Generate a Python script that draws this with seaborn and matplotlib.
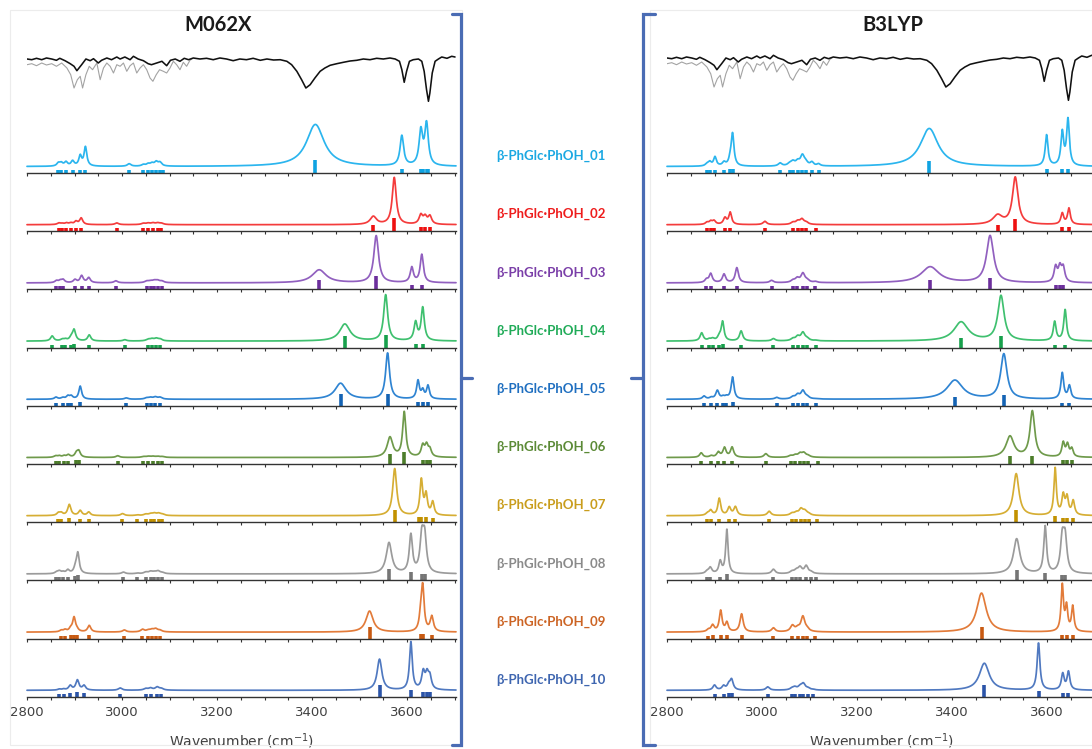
import numpy as np
import seaborn as sns
import matplotlib.pyplot as plt
from matplotlib.lines import Line2D
from matplotlib.ticker import MultipleLocator

# ---- experimental IR trace (same for both panels), dips are negative ----
exp_wn = [2800, 2810, 2820, 2831, 2841, 2852, 2862, 2869, 2880, 2891, 2899, 2905, 2915, 2924, 2933, 2940,
          2950, 2957, 2968, 2978, 2989, 2996, 3006, 3017, 3024, 3034, 3045, 3055, 3062, 3073, 3084, 3094,
          3102, 3112, 3122, 3131, 3140, 3150, 3164, 3178, 3192, 3206, 3220, 3234, 3248, 3262, 3276, 3291,
          3305, 3319, 3333, 3347, 3357, 3368, 3378, 3387, 3396, 3406, 3417, 3427, 3438, 3452, 3466, 3480,
          3494, 3508, 3522, 3536, 3550, 3564, 3575, 3584, 3589, 3594, 3599, 3605, 3613, 3624, 3631, 3636,
          3641, 3645, 3648, 3653, 3659, 3666, 3673, 3684, 3694, 3701]
exp_black = [0, -0.7, 0.7, -0.7, 1, 0, -1.3, 0.7, -1.7, -4.7, -7.3, -11.7, -5.7, 0, -1.7, 0.3,
             -4, -1.3, 1, -0.7, 2, 0, 2, -0.7, 2.7, 0, -1.7, -4.7, -5.7, -4, -2.3, -6.7,
             -1.3, 0, -2.3, 0.7, -0.7, 1, 0, 0.7, -0.7, 1, 0, -1.7, 0, -0.7, 0.7, -1.3,
             0, -1, -0.7, -2.3, -5.7, -12.3, -20.7, -29, -25.7, -19, -12.3, -9, -6.3, -4.7, -3.3, -2,
             -1.3, 0, -0.7, 0.7, 0, 1, 0, -2.3, -10.7, -23.3, -12.3, -2.3, -0.7, 0, -2.3, -12.3,
             -30.7, -42.3, -34, -14, -2.3, 0, 2, 0.7, 2.7, 2]
gray_wn = [2800, 2810, 2820, 2831, 2841, 2852, 2862, 2873, 2884, 2892, 2899, 2906, 2912, 2917, 2924, 2931,
           2938, 2947, 2954, 2961, 2968, 2975, 2982, 2989, 2996, 3003, 3010, 3017, 3024, 3031, 3038, 3045,
           3052, 3059, 3065, 3072, 3079, 3087, 3094, 3101, 3108, 3115, 3122, 3129, 3136, 3143, 3147]
exp_gray = [-5.7, -4.7, -6.7, -4, -6, -4.7, -7.3, -4, -9, -15.7, -29, -20.7, -17.3, -29, -15.7, -7.3,
            -10.7, -4, -20.7, -9, -4, -7.3, -14, -5.7, -7.3, -4, -12.3, -6.7, -4, -14, -9, -5.7,
            -10.7, -19, -22.3, -15.7, -10.7, -12.3, -14, -9, -2.3, -5.7, -10.7, -3.3, -7.3, -1.3, 0]

conformers = ['β-PhGlc·PhOH_%02d' % i for i in range(1, 11)]
curve_colors = ['#2bb5ee', '#f43c3c', '#9160bf', '#3fc06f', '#2f84d2',
                '#6f9a4b', '#d6ae34', '#9b9b9b', '#e27b3a', '#5079c0']
stick_colors = ['#0fa3e2', '#ee1010', '#6c2f9c', '#17a04c', '#1463b4',
                '#4c7d2a', '#c29100', '#767676', '#c85a12', '#2b54a8']
label_colors = ['#1aa8e2', '#ee1c1c', '#7a3ea8', '#20ab58', '#1f6fc0',
                '#5b8a36', '#c99d1c', '#8a8a8a', '#cc6424', '#3f66b0']

# bands: (wavenumber, stick intensity, band height, fwhm)
m06_01 = [(2866, 3.5, 3, 8), (2872, 3.5, 3, 8), (2882, 3.5, 4, 8), (2896, 3.5, 5, 8), (2912, 3.5, 10, 7),
          (2923, 3.5, 19, 7), (3015, 3.5, 2.5, 9), (3045, 3.5, 1.5, 9), (3055, 3.5, 2, 9), (3063, 3.5, 2.5, 9),
          (3072, 3.5, 4, 9), (3080, 3.5, 3.5, 9), (3086, 3.5, 0, 9), (3407, 13, 42, 45), (3589, 4, 30, 9),
          (3629, 4, 34, 9), (3634, 4, 0, 9), (3641, 4, 41, 9), (3645, 4, 0, 9)]
m06_02 = [(2867, 3, 1.5, 8), (2874, 3, 1, 8), (2883, 3, 1.5, 8), (2892, 3, 1.5, 8), (2903, 3, 3, 8),
          (2914, 3.5, 6.5, 8), (2989, 3.5, 1.7, 9), (3045, 3, 1.2, 10), (3055, 3, 1.3, 10), (3065, 3, 1.5, 10),
          (3075, 3, 1.5, 10), (3083, 3, 1.2, 10), (3529, 6, 8, 16), (3573, 13, 47, 10), (3629, 4, 9, 9),
          (3638, 4, 7, 9), (3648, 4, 8, 9)]
m06_03 = [(2862, 3.5, 2, 8), (2870, 3.5, 2, 8), (2876, 3.5, 3, 8), (2901, 3.5, 3, 8), (2915, 3.5, 7, 8),
          (2930, 3.5, 5, 8), (2987, 3.5, 2, 9), (3052, 3.5, 1.5, 10), (3060, 3.5, 1.5, 10), (3068, 3.5, 1.8, 10),
          (3075, 3.5, 2, 10), (3084, 3.5, 1.5, 10), (3415, 9, 13, 35), (3535, 13, 47, 12), (3610, 4, 15, 8),
          (3631, 4, 28, 8)]
m06_04 = [(2853, 3, 5, 8), (2874, 3, 1.5, 8), (2881, 3, 1.5, 8), (2893, 3, 3, 8), (2899, 3.5, 11, 8),
          (2931, 3, 6, 8), (3006, 3, 1.3, 9), (3055, 3, 1.5, 10), (3063, 3, 1.8, 10), (3072, 3, 2.2, 10),
          (3080, 3, 1.8, 10), (3469, 12, 17, 26), (3555, 13, 46, 10), (3618, 4, 18, 8), (3633, 4, 33, 8)]
m06_05 = [(2861, 3, 2, 8), (2875, 3, 1.5, 8), (2886, 3, 3, 8), (2893, 3, 3, 8), (2912, 3.5, 13, 7),
          (3009, 3, 1.3, 9), (3052, 3, 1.2, 10), (3060, 3, 1.5, 10), (3070, 3, 2, 10), (3080, 3, 1.8, 10),
          (3460, 12, 16, 28), (3559, 12, 46, 10), (3623, 4, 18, 7), (3633, 4, 8, 7), (3644, 4, 13, 7)]
m06_06 = [(2860, 3, 1.5, 8), (2868, 3, 1.5, 8), (2878, 3, 1.5, 8), (2887, 3, 2.5, 8), (2904, 4, 4, 8),
          (2909, 4, 6, 8), (2991, 3, 1.7, 9), (3045, 3, 0.8, 10), (3055, 3, 1, 10), (3065, 3, 1, 10),
          (3075, 3, 1, 10), (3085, 3, 0.8, 10), (3564, 10, 20, 14), (3594, 12, 45, 8), (3633, 4, 11, 8),
          (3641, 4, 11, 8), (3648, 4, 7, 8)]
m06_07 = [(2866, 3, 2.5, 8), (2872, 3, 2.5, 8), (2889, 4, 11, 8), (2912, 3, 5, 8), (2930, 3, 3.5, 8),
          (3001, 3, 2, 9), (3032, 3, 0.7, 9), (3050, 3, 1.3, 10), (3060, 3, 1.5, 10), (3068, 3, 2, 10),
          (3077, 3, 2, 10), (3085, 3, 1.2, 10), (3574, 12, 47, 10), (3625, 5, 0, 7), (3630, 5, 35, 7),
          (3640, 5, 20, 7), (3654, 4, 13, 7)]
m06_08 = [(2862, 3, 1.5, 8), (2868, 3, 2.5, 8), (2876, 3, 1.5, 8), (2886, 3.5, 3.5, 8), (2902, 4, 5, 8),
          (2907, 5, 20, 7), (3003, 3, 1.7, 9), (3032, 3, 0.7, 9), (3050, 3, 1.5, 10), (3060, 3, 2, 10),
          (3068, 3, 1.5, 10), (3076, 3, 2.5, 10), (3085, 3, 1, 10), (3562, 11, 31, 14), (3608, 8, 38, 8),
          (3631, 6, 34, 9), (3637, 6, 34, 9)]
m06_09 = [(2872, 3, 1.5, 8), (2880, 3, 2, 8), (2892, 3.5, 3, 8), (2899, 4, 14, 7), (2905, 3.5, 2, 8),
          (2931, 3.5, 6.5, 8), (3005, 3, 2, 9), (3043, 3, 2.5, 9), (3055, 3, 1.5, 10), (3063, 3, 2, 10),
          (3071, 3, 2.8, 10), (3080, 3, 1.5, 10), (3521, 12, 21, 18), (3629, 5, 15, 7), (3633, 5, 42, 7),
          (3652, 4, 15, 8)]
m06_10 = [(2868, 3, 1, 8), (2877, 3, 1, 8), (2891, 3.5, 4.5, 8), (2906, 4.5, 10, 8), (2920, 3.5, 4.5, 8),
          (2996, 3, 2.3, 9), (3050, 3, 1.5, 10), (3060, 3, 2, 10), (3074, 3, 3, 10), (3083, 3, 1.5, 10),
          (3542, 12, 31, 12), (3608, 7, 48, 7), (3634, 5, 17, 8), (3642, 5, 14, 8), (3648, 5, 12, 8)]

b3_01 = [(2884, 3.5, 2, 8), (2890, 3.5, 4, 8), (2901, 3.5, 9, 7), (2920, 3, 3.5, 8), (2933, 4, 5, 7),
         (2938, 4, 32, 7), (3038, 3, 3, 9), (3058, 3, 2, 10), (3065, 3, 4, 10), (3075, 3, 4, 10),
         (3085, 3, 10, 10), (3092, 3, 3, 10), (3105, 3, 3.5, 8), (3119, 3, 2, 8), (3352, 12, 38, 45),
         (3599, 4, 31, 7), (3632, 4, 33, 7), (3644, 4, 46, 7)]
b3_02 = [(2884, 3, 2, 8), (2892, 3, 3, 8), (2899, 3, 3.5, 8), (2922, 3.5, 6.5, 8), (2933, 3.5, 12, 7),
         (3006, 3.5, 3.3, 9), (3065, 3, 2, 10), (3075, 3, 3, 10), (3084, 3, 5, 10), (3093, 3, 2, 10),
         (3113, 3, 0, 8), (3496, 6, 9, 24), (3533, 12, 47, 14), (3632, 4, 11, 7), (3646, 4, 16, 7)]
b3_03 = [(2883, 3.5, 3, 8), (2892, 3.5, 9, 8), (2920, 3.5, 8.5, 8), (2947, 3.5, 15, 8), (3020, 3, 2.3, 9),
         (3065, 3, 2, 10), (3074, 3, 4, 10), (3086, 3, 9, 10), (3095, 3, 2, 10), (3112, 3, 1, 8),
         (3354, 9, 16, 45), (3480, 11, 47, 18), (3618, 4, 15, 8), (3627, 4, 14, 8), (3634, 4, 14, 8)]
b3_04 = [(2873, 3, 8, 8), (2889, 3, 1.5, 8), (2896, 3, 2, 8), (2910, 3, 4, 8), (2917, 3.5, 19, 7),
         (2956, 3, 10, 8), (3024, 3, 2.3, 9), (3065, 3, 2, 10), (3075, 3, 4, 10), (3086, 3, 8, 10),
         (3095, 3, 2, 10), (3113, 3, 0.5, 8), (3419, 10, 19, 36), (3503, 12, 45, 16), (3616, 3, 19, 7),
         (3638, 3, 31, 7)]
b3_05 = [(2878, 3, 3, 8), (2893, 3, 1.5, 8), (2906, 3, 8.5, 8), (2918, 3, 2, 8), (2925, 3, 2, 8),
         (2938, 3.5, 22, 7), (3031, 3, 1.7, 9), (3065, 3, 2, 10), (3075, 3, 4, 10), (3086, 3, 8, 10),
         (3095, 3, 2, 10), (3113, 3, 0.3, 8), (3406, 9, 19, 40), (3509, 11, 45, 16), (3632, 3, 26, 7),
         (3647, 3, 13, 7)]
b3_06 = [(2872, 3, 4.5, 8), (2893, 3, 1.5, 8), (2908, 3, 5, 8), (2921, 3, 9.5, 8), (2937, 3, 10, 8),
         (3008, 3, 3.7, 9), (3060, 3, 1.5, 10), (3070, 3, 2, 10), (3080, 3, 3.5, 10), (3088, 3, 4, 10),
         (3097, 3, 1.5, 10), (3118, 3, 0, 8), (3522, 8, 21, 20), (3569, 8, 46, 12), (3634, 4, 14, 7),
         (3643, 4, 12, 7), (3652, 4, 8, 7)]
b3_07 = [(2885, 3, 2, 8), (2892, 3, 5, 8), (2910, 3.5, 17, 7), (2931, 3, 8, 8), (2944, 3, 8.5, 8),
         (3015, 3, 4.3, 9), (3063, 3, 2, 10), (3072, 3, 2.5, 10), (3082, 3, 6, 10), (3090, 3, 4, 10),
         (3098, 3, 1.5, 10), (3115, 3, 0, 8), (3535, 12, 42, 14), (3617, 6, 47, 6), (3634, 4, 19, 7),
         (3642, 4, 17, 7), (3655, 4, 14, 7)]
b3_08 = [(2884, 3, 2, 8), (2891, 3, 6, 8), (2912, 3.5, 12, 7), (2926, 6, 44, 6), (3024, 3, 4.5, 9),
         (3063, 3, 2, 10), (3072, 3, 3, 10), (3080, 3, 6, 10), (3093, 3, 7.5, 9), (3103, 3, 1.5, 9),
         (3113, 3, 0, 8), (3536, 10, 35, 16), (3596, 7, 47, 7), (3632, 5, 33, 9), (3638, 5, 33, 9)]
b3_09 = [(2887, 3, 2, 8), (2896, 3.5, 6.5, 8), (2913, 4, 21, 7), (2926, 3.5, 9, 7), (2957, 3.5, 18, 8),
         (3024, 3, 4, 9), (3064, 3, 6, 10), (3075, 3, 3, 10), (3086, 3, 15, 10), (3095, 3, 2, 10),
         (3112, 3, 0, 8), (3462, 12, 39, 24), (3632, 4, 46, 6), (3641, 4, 24, 6), (3654, 4, 25, 6)]
b3_10 = [(2900, 3, 5, 8), (2919, 3, 4, 8), (2930, 3.5, 5, 8), (2936, 3.5, 10, 8), (3012, 3, 3.3, 9),
         (3063, 3, 1.5, 10), (3069, 3, 2.5, 10), (3080, 3, 3, 10), (3087, 3, 6, 10), (3097, 3, 1.5, 10),
         (3108, 3, 0.5, 8), (3468, 12, 27, 25), (3582, 6, 47, 7), (3633, 4, 16, 7), (3645, 4, 18, 7)]

m06_rows = [m06_01, m06_02, m06_03, m06_04, m06_05, m06_06, m06_07, m06_08, m06_09, m06_10]
b3_rows = [b3_01, b3_02, b3_03, b3_04, b3_05, b3_06, b3_07, b3_08, b3_09, b3_10]


def lorentz_sum(bands, x):
    y = np.zeros_like(x)
    for wn, _, h, fw in bands:
        y += h / (1 + ((x - wn) / (fw / 2)) ** 2)
    return y


sns.set_theme(style='white')
plt.rcParams['font.family'] = ['Lato', 'DejaVu Sans']

W, H = 1092, 749
fig = plt.figure(figsize=(W / 100, H / 100), dpi=100)


def px_axes(x0, x1, y0, y1):
    return fig.add_axes([x0 / W, 1 - y1 / H, (x1 - x0) / W, (y1 - y0) / H])


xlim = (2800, 3703)
xs = np.linspace(2800, 3703, 2400)
base = 6.5
row_y = [173 + 58.2 * i for i in range(10)]

# faint chart frames
fig.add_artist(plt.Rectangle((10 / W, 1 - 745 / H), 452 / W, 735 / H, transform=fig.transFigure,
                             fill=False, ec='#ececec', lw=0.8))
fig.add_artist(plt.Rectangle((650 / W, 1 - 745 / H), 460 / W, 735 / H, transform=fig.transFigure,
                             fill=False, ec='#ececec', lw=0.8))

panels = [('M062X', m06_rows, 27, 218, 59), ('B3LYP', b3_rows, 667, 893, 58)]
for title, rows, x0, tx, y_base in panels:
    ax = px_axes(x0, x0 + 429, 30, 110)
    sns.lineplot(x=gray_wn, y=exp_gray, ax=ax, color='#a3a3a3', lw=0.8, estimator=None, sort=False)
    sns.lineplot(x=exp_wn, y=exp_black, ax=ax, color='#111111', lw=1.15, estimator=None, sort=False)
    ax.set_xlim(*xlim)
    ax.set_ylim(-(110 - y_base), 80 - (110 - y_base))
    ax.axis('off')
    fig.text(tx / W, 1 - 25 / H, title, ha='center', va='center', fontsize=14.5,
             fontweight='bold', color='#1a1a1a')

    for i, bands in enumerate(rows):
        ax = px_axes(x0, x0 + 429, row_y[i] - 58, row_y[i])
        sns.lineplot(x=xs, y=base + lorentz_sum(bands, xs), ax=ax, color=curve_colors[i], lw=1.25,
                     estimator=None, sort=False, clip_on=False)
        ax.vlines([b[0] for b in bands], 0, [b[1] for b in bands], color=stick_colors[i], lw=2.6)
        ax.set_xlim(*xlim)
        ax.set_ylim(0, 58)
        ax.patch.set_alpha(0)
        for s in ['top', 'right', 'left']:
            ax.spines[s].set_visible(False)
        ax.spines['bottom'].set_color('#333333')
        ax.spines['bottom'].set_linewidth(1.0)
        ax.set_yticks([])
        ax.xaxis.set_major_locator(MultipleLocator(200))
        ax.xaxis.set_minor_locator(MultipleLocator(50))
        ax.tick_params(axis='x', which='both', direction='out', length=2.5, width=0.8,
                       color='#333333', bottom=True)
        if i < 9:
            ax.set_xticklabels([])
        else:
            ax.tick_params(axis='x', labelsize=9.5, labelcolor='#404040', pad=4)
            for lab in ax.get_xticklabels():
                lab.set_family('DejaVu Sans')
            ax.set_xlabel('Wavenumber (cm$^{-1}$)', fontsize=10, color='#404040', labelpad=9,
                          family='DejaVu Sans')

for i, name in enumerate(conformers):
    fig.text(551 / W, 1 - (row_y[i] - 17) / H, name, ha='center', va='center', fontsize=9.5,
             fontweight='bold', color=label_colors[i])

# brackets
blue = '#4a6cb4'
for xs_, ys_ in [([452, 461, 461, 452], [14, 14, 745, 745]), ([461, 472], [378, 378]),
                 ([655, 643, 643, 655], [14, 14, 745, 745]), ([643, 631], [378, 378])]:
    fig.add_artist(Line2D([v / W for v in xs_], [1 - v / H for v in ys_], transform=fig.transFigure,
                          color=blue, lw=2.3, solid_joinstyle='miter'))

fig.savefig('out.png', dpi=100)
